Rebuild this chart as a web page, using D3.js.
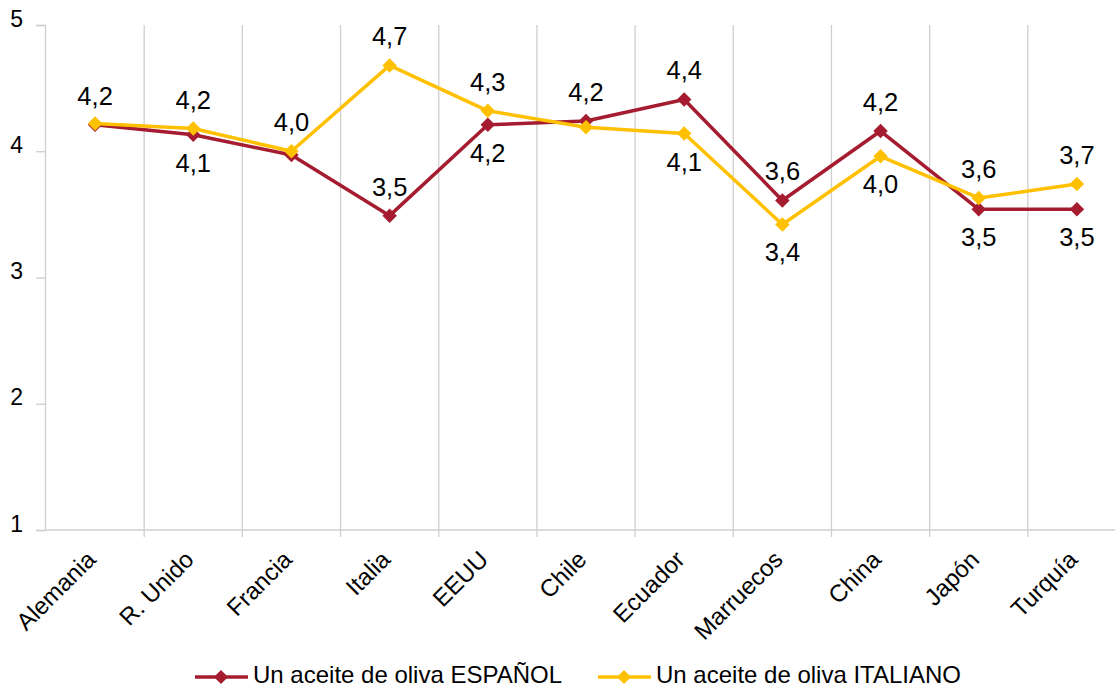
<!DOCTYPE html>
<html><head><meta charset="utf-8">
<script src="https://cdn.jsdelivr.net/npm/d3@7"></script>
<style>body{margin:0;background:#fff;}svg{display:block;font-family:"Liberation Sans",Arial,sans-serif;}</style>
</head><body>
<svg id="c" width="1115" height="688"></svg>
<script>
const categories = ["Alemania","R. Unido","Francia","Italia","EEUU","Chile","Ecuador","Marruecos","China","Japón","Turquía"];
const espanol  = [4.21, 4.13, 3.97, 3.49, 4.21, 4.24, 4.41, 3.61, 4.16, 3.54, 3.54];
const italiano = [4.22, 4.18, 4.00, 4.68, 4.32, 4.19, 4.14, 3.42, 3.96, 3.63, 3.74];
// label placement: 1 above, -1 below, 0 hidden
const espanolLabelPos  = [1, -1, 0, 1, -1, 1, 1, 1, 1, -1, -1];
const italianoLabelPos = [0, 1, 1, 1, 1, 0, -1, -1, -1, 1, 1];
const yTicks = [1, 2, 3, 4, 5];
const seriesNames = ["Un aceite de oliva ESPAÑOL", "Un aceite de oliva ITALIANO"];

const svg = d3.select("#c");
const x = d3.scaleBand().domain(categories).range([46, 1126]);
const y = d3.scaleLinear().domain([1, 5]).range([530, 25]);
const gridColor = "#cfcfcf";

// vertical gridlines at category boundaries
const bounds = categories.slice(1).map(c => x(c));
svg.append("g").selectAll("line").data(bounds).join("line")
  .attr("x1", d => d).attr("x2", d => d).attr("y1", y(5)).attr("y2", 537)
  .attr("stroke", gridColor).attr("stroke-width", 1.3);

// x axis
svg.append("line").attr("x1", 45).attr("x2", 1126).attr("y1", y(1)).attr("y2", y(1))
  .attr("stroke", gridColor).attr("stroke-width", 1.3);
// y axis
const yAxis = d3.axisLeft(y).tickValues(yTicks).tickSize(9).tickPadding(13).tickFormat(d3.format("d"));
const ga = svg.append("g").attr("transform", "translate(45,0)").call(yAxis);
ga.attr("font-size", null).attr("font-family", null);
ga.select(".domain").attr("stroke", gridColor).attr("stroke-width", 1.3);
ga.selectAll(".tick line").attr("stroke", gridColor).attr("stroke-width", 1.3);
ga.selectAll(".tick text").style("font-size", "23px").attr("fill", "#000").attr("dy", "0.05em");

// category labels
svg.append("g").selectAll("text").data(categories).join("text")
  .attr("transform", d => `translate(${x(d) + x.bandwidth()/2 + 2},${561}) rotate(-45)`)
  .attr("text-anchor", "end").style("font-size", "24px").attr("fill", "#000").text(d => d);

const series = [
  {name: seriesNames[0], values: espanol, pos: espanolLabelPos, color: "#A51C30"},
  {name: seriesNames[1], values: italiano, pos: italianoLabelPos, color: "#FFC000"}
];
const cx = i => x(categories[i]) + x.bandwidth()/2;
const line = d3.line().x((d, i) => cx(i)).y(d => y(d));
const fmt = v => d3.format(".1f")(v).replace(".", ",");

series.forEach(s => {
  svg.append("path").datum(s.values).attr("d", line).attr("fill", "none")
    .attr("stroke", s.color).attr("stroke-width", 3.5).attr("stroke-linejoin", "round");
  svg.append("g").selectAll("path").data(s.values).join("path")
    .attr("d", d3.symbol().type(d3.symbolSquare).size(105))
    .attr("transform", (d, i) => `translate(${cx(i)},${y(d)}) rotate(45)`)
    .attr("fill", s.color);
});
series.forEach(s => {
  svg.append("g").selectAll("text").data(s.values.map((v, i) => ({v, i, p: s.pos[i]})).filter(d => d.p !== 0))
    .join("text")
    .attr("x", d => cx(d.i)).attr("y", d => y(d.v) + (d.p > 0 ? -20 : 37))
    .attr("text-anchor", "middle").style("font-size", "25.5px").attr("fill", "#000")
    .text(d => fmt(d.v));
});

// legend
const legX = [195, 598];
series.forEach((s, k) => {
  const g = svg.append("g").attr("transform", `translate(${legX[k]},677)`);
  g.append("line").attr("x1", 0).attr("x2", 53).attr("y1", 0).attr("y2", 0)
    .attr("stroke", s.color).attr("stroke-width", 3.5);
  g.append("path").attr("d", d3.symbol().type(d3.symbolSquare).size(100))
    .attr("transform", "translate(26,0) rotate(45)").attr("fill", s.color);
  g.append("text").attr("x", 58).attr("y", 6).style("font-size", "24px").attr("fill", "#000").text(s.name);
});
</script>
</body></html>
